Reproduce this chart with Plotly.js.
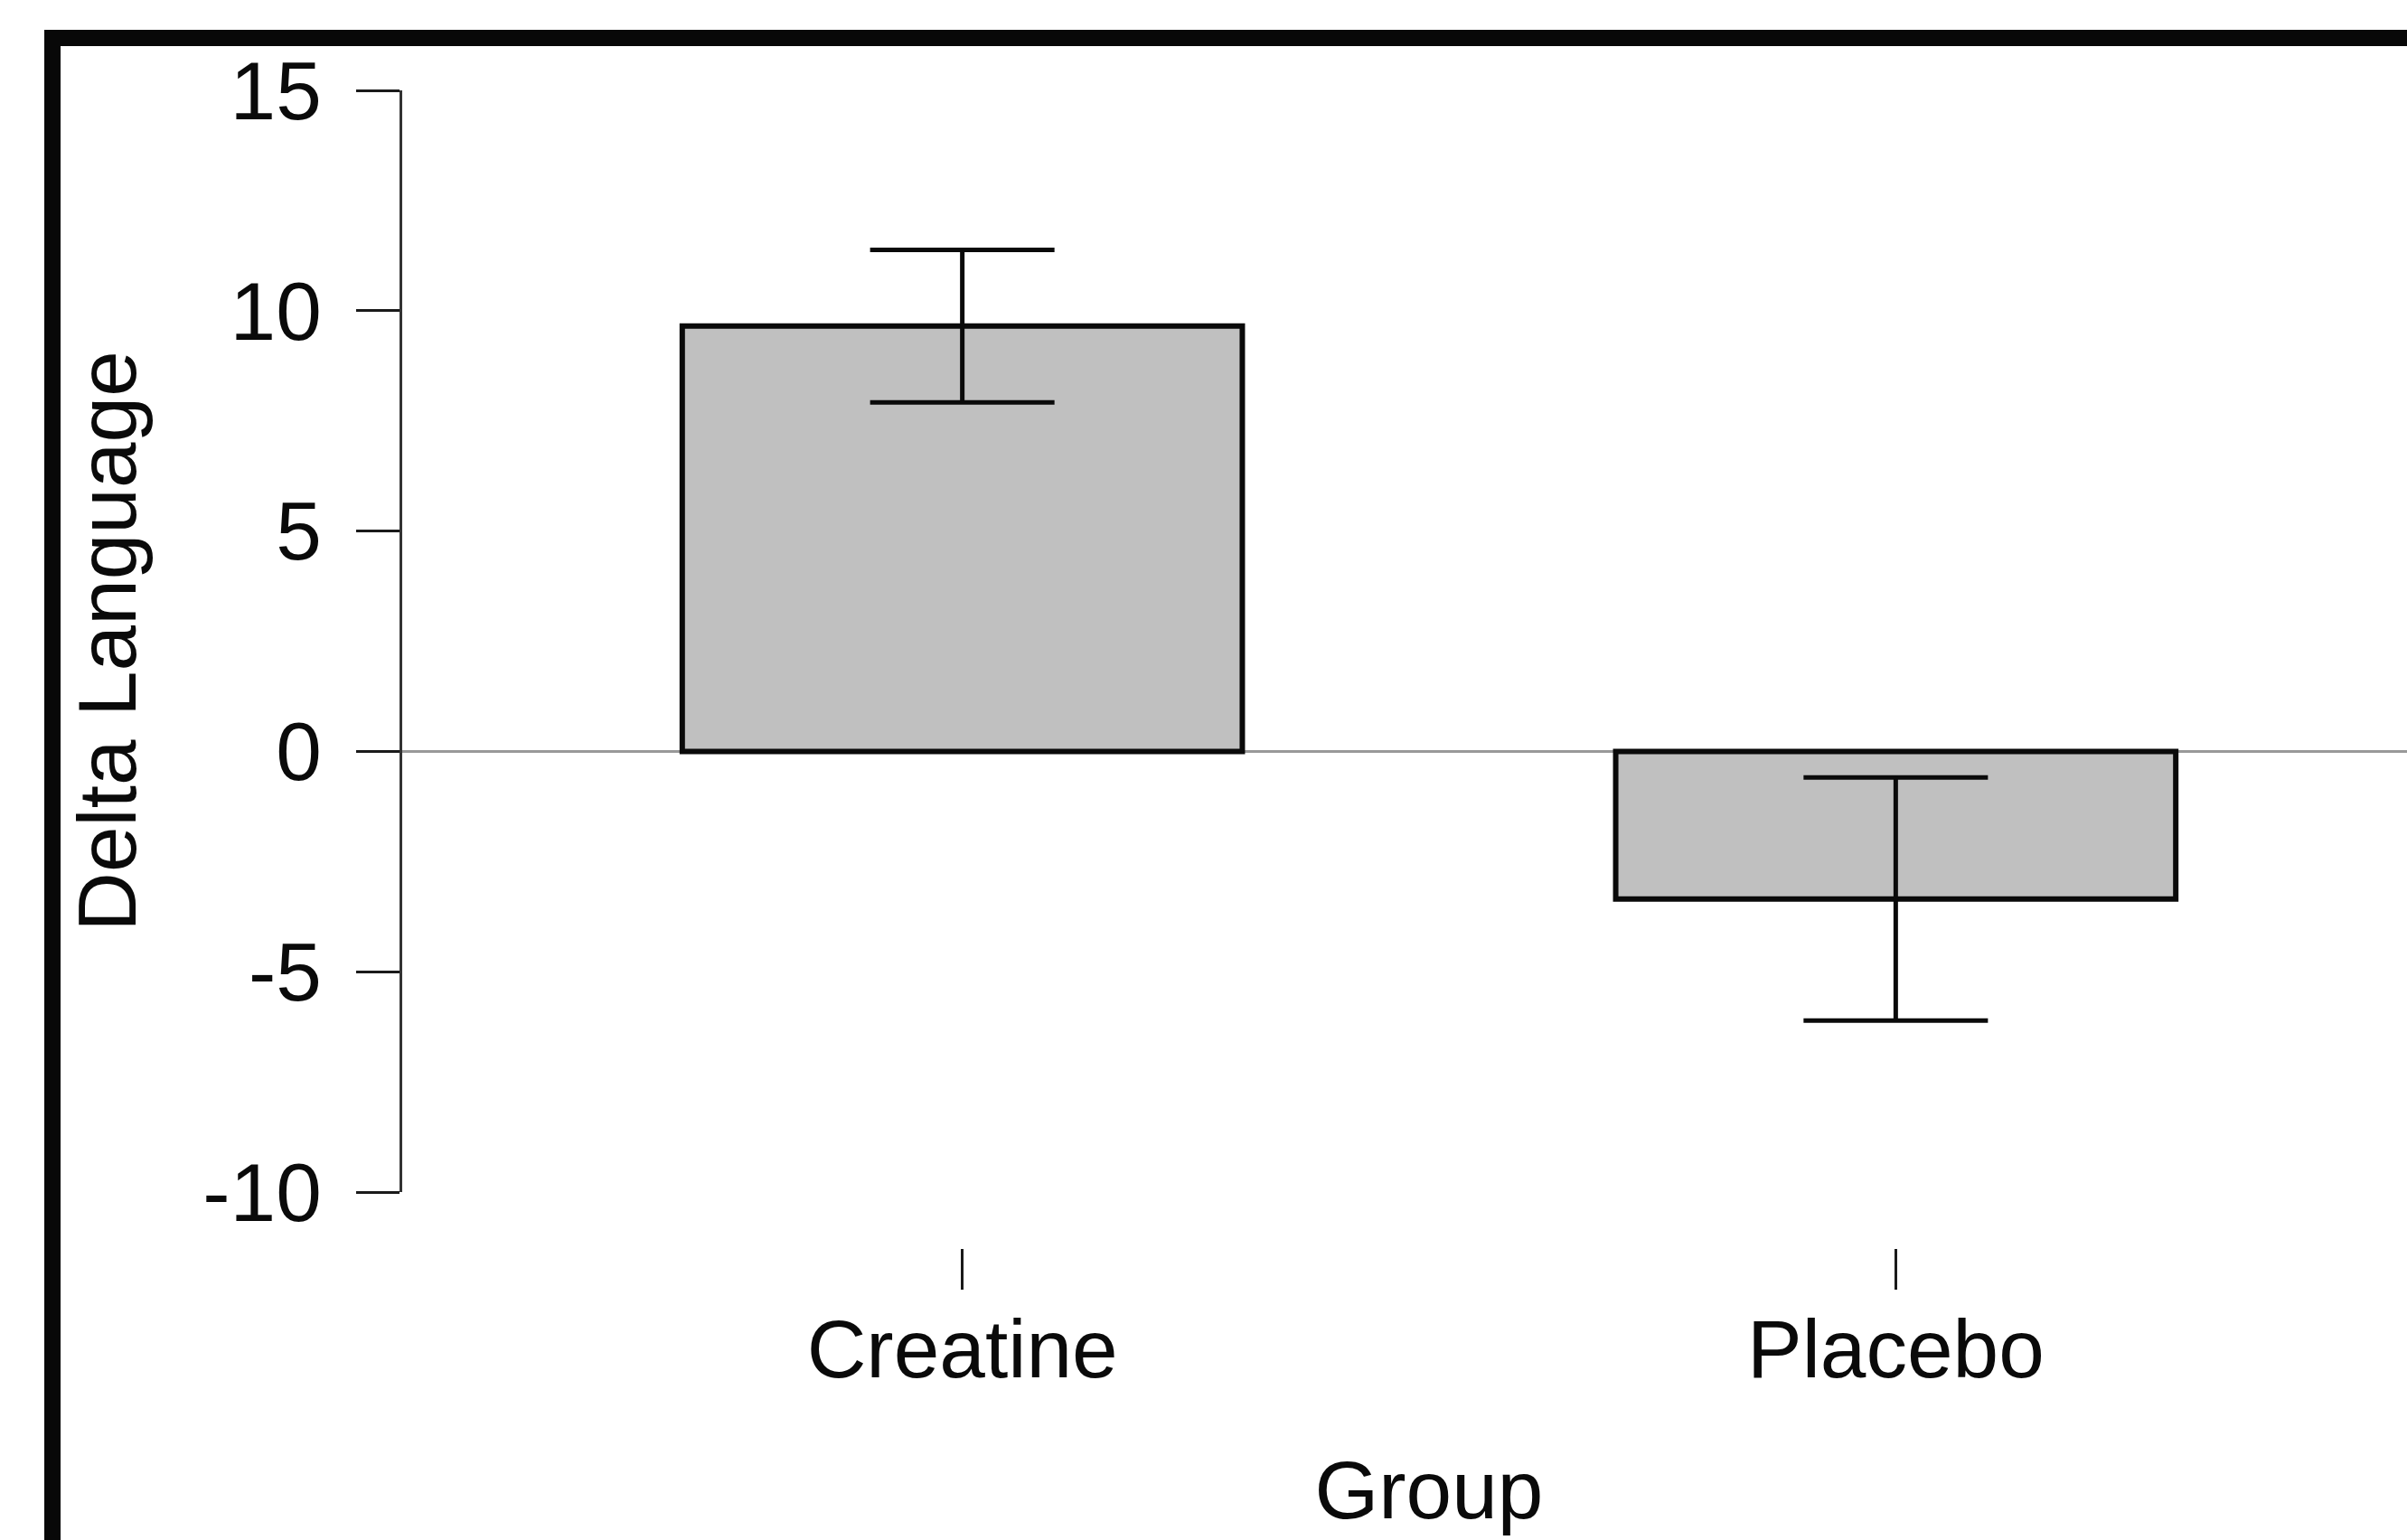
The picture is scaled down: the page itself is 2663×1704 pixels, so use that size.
<!DOCTYPE html>
<html>
<head>
<meta charset="utf-8">
<script src="https://cdn.plot.ly/plotly-3.0.1.min.js"></script>
<style>
  html, body { margin: 0; padding: 0; background: #ffffff; overflow: hidden; }
  #chart { width: 2800px; height: 1704px; }
</style>
</head>
<body>
<div id="chart"></div>
<script>
// ---- data ----
const groups = ["Creatine", "Placebo"];
const deltaLanguage = [9.65, -3.35];
const errorHalf = [1.73, 2.76];
const yTickValues = [-10, -5, 0, 5, 10, 15];
const yTickLabels = ["-10", "-5", "0", "5", "10", "15"];
const xTitle = "Group";
const yTitle = "Delta Language";

const FONT = "Liberation Sans, Arial, Helvetica, sans-serif";

const trace = {
  type: "bar",
  x: groups,
  y: deltaLanguage,
  width: 0.6,
  marker: { color: "#c0c0c0", line: { color: "#0a0a0a", width: 6 } },
  error_y: { type: "data", array: errorHalf, visible: true, color: "#0a0a0a", thickness: 5, width: 102 },
  hoverinfo: "none"
};

const layout = {
  width: 2800,
  height: 1704,
  margin: { l: 445, r: 83, t: 100, b: 323 },
  paper_bgcolor: "#ffffff",
  plot_bgcolor: "#ffffff",
  showlegend: false,
  font: { family: FONT, size: 91, color: "#0a0a0a" },
  xaxis: {
    type: "category",
    range: [-0.6, 1.6],
    anchor: "free",
    position: 0,
    showline: false,
    showgrid: false,
    zeroline: false,
    ticks: "outside",
    ticklen: 45,
    tickwidth: 3,
    tickcolor: "#1a1a1a",
    ticklabelstandoff: -12,
    tickfont: { family: FONT, size: 91, color: "#0a0a0a" },
    title: { text: xTitle, font: { family: FONT, size: 91, color: "#0a0a0a" }, standoff: 74 },
    automargin: false
  },
  yaxis: {
    domain: [0.0484, 1],
    range: [-10, 15],
    tickvals: yTickValues,
    ticktext: yTickLabels,
    showline: true,
    linecolor: "#333333",
    linewidth: 3,
    showgrid: false,
    zeroline: true,
    zerolinecolor: "#999999",
    zerolinewidth: 3,
    ticks: "outside",
    ticklen: 48,
    tickwidth: 3,
    tickcolor: "#1a1a1a",
    ticklabelstandoff: 20,
    tickfont: { family: FONT, size: 91, color: "#0a0a0a" },
    title: { text: yTitle, font: { family: FONT, size: 91, color: "#0a0a0a" }, standoff: 44 },
    automargin: false
  },
  shapes: [{
    type: "rect",
    xref: "paper", yref: "paper",
    x0: -0.17033, x1: 1.0189,
    y0: -0.2959, y1: 1.04528,
    line: { color: "#080808", width: 18 },
    fillcolor: "rgba(0,0,0,0)",
    layer: "above"
  }]
};

Plotly.newPlot("chart", [trace], layout, { displayModeBar: false, staticPlot: true });
</script>
</body>
</html>
